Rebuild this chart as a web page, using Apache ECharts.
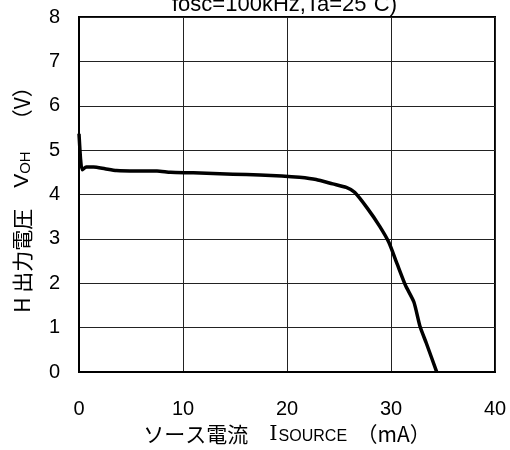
<!DOCTYPE html>
<html>
<head>
<meta charset="utf-8">
<script src="https://cdn.jsdelivr.net/npm/echarts@6/dist/echarts.min.js"></script>
<style>
  html, body { margin: 0; padding: 0; background: #fff; }
  #chart { width: 510px; height: 450px; }
</style>
</head>
<body>
<div id="chart"></div>
<script>
// Source current (mA) and high-level output voltage (V)
const sourceCurrent = [0, 0.15, 0.3, 0.7, 1.4, 2.5, 3.6, 5.5, 7.5, 8.8, 11, 14.8, 17.4, 19.5, 21.2, 22.8, 24.4, 25.7, 26.5, 27.7, 28.9, 29.8, 30.6, 31.4, 32.2, 32.8, 33.4, 34.4];
const outputVoltage = [5.37, 4.8, 4.56, 4.62, 4.62, 4.58, 4.54, 4.53, 4.53, 4.5, 4.49, 4.46, 4.44, 4.42, 4.39, 4.34, 4.24, 4.16, 4.05, 3.70, 3.29, 2.92, 2.43, 1.95, 1.58, 1.02, 0.65, 0];
const xTicks = [0, 10, 20, 30, 40];
const yTicks = [0, 1, 2, 3, 4, 5, 6, 7, 8];
const titleText = 'fosc=100kHz,Ta=25\u02daC)';

const FONT = '"Liberation Sans", Arial, sans-serif';
const JP = '"Noto Sans CJK JP", "Liberation Sans", sans-serif';

const nameRich = {
  jp: { fontSize: 21, fontFamily: JP, color: '#000' },
  sp: { fontSize: 21, fontFamily: JP, color: '#000' },
  b: { fontSize: 21, fontFamily: FONT, color: '#000' },
  i: { fontSize: 21, fontFamily: '"DejaVu Serif", serif', color: '#000' },
  s: { fontSize: 15, fontFamily: FONT, color: '#000', verticalAlign: 'bottom', padding: [6, 0, 0, 0] },
  sc: { fontSize: 16, fontFamily: FONT, color: '#000', verticalAlign: 'bottom', padding: [5, 0, 0, 1] }
};

const chart = echarts.init(document.getElementById('chart'), null, { renderer: 'canvas' });
chart.setOption({
  backgroundColor: '#ffffff',
  animation: false,
  grid: { left: 79, right: 15, top: 17, bottom: 74, show: true, borderColor: '#000', borderWidth: 2, backgroundColor: 'transparent' },
  xAxis: {
    type: 'value', min: xTicks[0], max: xTicks[xTicks.length - 1], interval: 10,
    axisLine: { show: true, lineStyle: { color: '#000', width: 2 } },
    axisTick: { show: false },
    splitLine: { show: true, lineStyle: { color: '#222', width: 1 } },
    axisLabel: { color: '#000', fontSize: 20, fontFamily: FONT, margin: 27 },
    name: '{jp|ソース電流}{sp|　}{i|I}{sc|SOURCE}{sp|  }{jp|（mA）}',
    nameLocation: 'middle', nameGap: 50,
    nameTextStyle: { rich: nameRich }
  },
  yAxis: {
    type: 'value', min: yTicks[0], max: yTicks[yTicks.length - 1], interval: 1,
    axisLine: { show: true, lineStyle: { color: '#000', width: 2 } },
    axisTick: { show: false },
    splitLine: { show: true, lineStyle: { color: '#222', width: 1 } },
    axisLabel: { color: '#000', fontSize: 20, fontFamily: FONT, margin: 19 },
    name: '{jp|H 出力電圧}{sp|　}{b|V}{s|OH}{sp|　}{jp|（V）}',
    nameLocation: 'middle', nameGap: 46, nameRotate: 90,
    nameTextStyle: { rich: nameRich }
  },
  graphic: [{
    type: 'text', left: 172, top: -6,
    style: { text: titleText, fontSize: 22, fontFamily: FONT, fill: '#000' }
  }],
  series: [{
    type: 'line',
    data: sourceCurrent.map((x, i) => [x, outputVoltage[i]]),
    showSymbol: false,
    smooth: 0.2,
    lineStyle: { color: '#000', width: 3.5 },
    clip: true
  }]
});
</script>
</body>
</html>
